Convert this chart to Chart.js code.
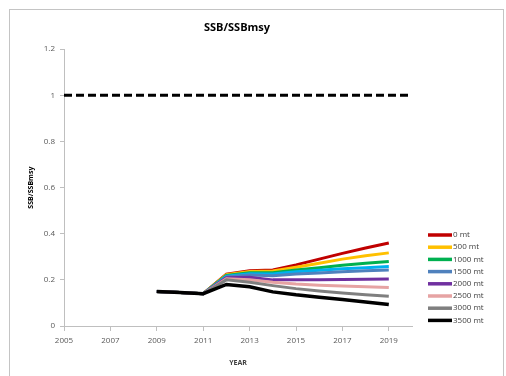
<!DOCTYPE html>
<html>
<head>
<meta charset="utf-8">
<script src="https://cdn.jsdelivr.net/npm/chart.js@4.4.1/dist/chart.umd.min.js"></script>
<style>
  html, body { margin: 0; padding: 0; background: #fff; }
  #wrap { position: relative; width: 506px; height: 376px; overflow: hidden; }
  #frame { position: absolute; left: 9px; top: 9px; width: 495px; height: 400px;
           border: 1.5px solid #c4c4c4; box-sizing: border-box; }
  canvas { position: absolute; left: 0; top: 0; }
</style>
</head>
<body>
<div id="wrap">
  <div id="frame"></div>
  <canvas id="chart" width="506" height="376"></canvas>
</div>
<script>
// Projection years and the SSB/SSBmsy ratio for each catch scenario
const years = [2009, 2010, 2011, 2012, 2013, 2014, 2015, 2016, 2017, 2018, 2019];
const ref = [[2005, 1], [2020, 1]];
const xTicks = [2005, 2007, 2009, 2011, 2013, 2015, 2017, 2019];

const scenarioLabels = ['0 mt', '500 mt', '1000 mt', '', '1500 mt', '2000 mt', '2500 mt', '3000 mt', '3500 mt'];
const scenarioColors = ['#c00000', '#ffc000', '#00b050', '#00b0f0', '#4f81bd', '#7030a0', '#e6a3a3', '#7f7f7f', '#000000'];

const mt0    = [0.15, 0.145, 0.14, 0.225, 0.240, 0.243, 0.265, 0.290, 0.315, 0.338, 0.360];
const mt500  = [0.15, 0.145, 0.14, 0.222, 0.236, 0.238, 0.255, 0.272, 0.290, 0.305, 0.317];
const mt1000 = [0.15, 0.145, 0.14, 0.219, 0.231, 0.231, 0.243, 0.253, 0.263, 0.272, 0.280];
const mtMid  = [0.15, 0.145, 0.14, 0.216, 0.226, 0.225, 0.235, 0.242, 0.248, 0.253, 0.258];
const mt1500 = [0.15, 0.145, 0.14, 0.213, 0.221, 0.218, 0.225, 0.230, 0.235, 0.240, 0.243];
const mt2000 = [0.15, 0.145, 0.14, 0.209, 0.211, 0.200, 0.200, 0.200, 0.202, 0.203, 0.204];
const mt2500 = [0.15, 0.145, 0.14, 0.205, 0.201, 0.190, 0.182, 0.177, 0.173, 0.170, 0.167];
const mt3000 = [0.15, 0.145, 0.14, 0.200, 0.190, 0.175, 0.162, 0.152, 0.143, 0.136, 0.129];
const mt3500 = [0.15, 0.145, 0.14, 0.180, 0.170, 0.148, 0.135, 0.125, 0.115, 0.104, 0.093];

const scenarioValues = [mt0, mt500, mt1000, mtMid, mt1500, mt2000, mt2500, mt3000, mt3500];

const FONT = '"Open Sans", "Liberation Sans", sans-serif';

// Scenario lines in series order; the 3500 mt line ends up drawn last, on top
const datasets = scenarioValues.map((vals, i) => ({
  label: scenarioLabels[i],
  data: years.map((y, k) => ({ x: y, y: vals[k] })),
  borderColor: scenarioColors[i],
  backgroundColor: scenarioColors[i],
  borderWidth: i === scenarioValues.length - 1 ? 3.5 : 3,
  pointRadius: 0,
  tension: 0,
  order: scenarioValues.length - i
}));
datasets.push({
  label: 'SSBmsy',
  data: ref.map(p => ({ x: p[0], y: p[1] })),
  borderColor: '#000',
  borderWidth: 3,
  borderDash: [8, 4],
  pointRadius: 0,
  order: 0
});

// Legend column to the right of the plot
const sideLegend = {
  id: 'sideLegend',
  afterDraw(chart) {
    const ctx = chart.ctx;
    const area = chart.chartArea;
    const x0 = area.right + 16;
    let y = area.bottom - 91;
    ctx.save();
    ctx.font = '8px ' + FONT;
    ctx.textBaseline = 'middle';
    ctx.textAlign = 'left';
    for (let i = 0; i < scenarioLabels.length; i++) {
      if (!scenarioLabels[i]) continue;
      ctx.strokeStyle = scenarioColors[i];
      ctx.lineWidth = 3.5;
      ctx.beginPath();
      ctx.moveTo(x0, y);
      ctx.lineTo(x0 + 24, y);
      ctx.stroke();
      ctx.fillStyle = '#404040';
      ctx.fillText(scenarioLabels[i], x0 + 25, y);
      y += 12.2;
    }
    ctx.restore();
  }
};

new Chart(document.getElementById('chart'), {
  type: 'line',
  data: { datasets },
  plugins: [sideLegend],
  options: {
    responsive: false,
    animation: false,
    layout: { padding: { left: 12, right: 44, top: 12, bottom: 0 } },
    plugins: {
      legend: { display: false },
      tooltip: { enabled: false },
      title: {
        display: true,
        text: 'SSB/SSBmsy',
        color: '#000',
        font: { family: FONT, size: 11, weight: 'bold' },
        padding: { top: 9, bottom: 15 }
      }
    },
    scales: {
      x: {
        type: 'linear',
        min: 2005,
        max: 2020,
        afterFit(scale) { scale.height = 50; },
        afterBuildTicks(scale) { scale.ticks = xTicks.map(v => ({ value: v })); },
        grid: { drawOnChartArea: false, tickLength: 5, color: '#bfbfbf' },
        border: { color: '#bfbfbf' },
        ticks: {
          color: '#595959',
          padding: 5,
          maxRotation: 0,
          font: { family: FONT, size: 8 },
          callback: v => String(v)
        },
        title: {
          display: true,
          text: 'YEAR',
          color: '#404040',
          font: { family: FONT, size: 7, weight: 'bold' },
          padding: { top: 0, bottom: 9 }
        }
      },
      y: {
        min: 0,
        max: 1.2,
        afterFit(scale) { scale.width = 52; },
        grid: { drawOnChartArea: false, tickLength: 4, color: '#bfbfbf' },
        border: { color: '#bfbfbf' },
        ticks: {
          stepSize: 0.2,
          color: '#595959',
          padding: 5,
          font: { family: FONT, size: 8 },
          callback: v => String(Math.round(v * 10) / 10)
        },
        title: {
          display: true,
          text: 'SSB/SSBmsy',
          color: '#000',
          font: { family: FONT, size: 7, weight: 'bold' },
          padding: { top: 15, bottom: 0 }
        }
      },
      // empty right-hand strip that holds the legend column
      side: {
        position: 'right',
        display: true,
        min: 0,
        max: 1,
        afterFit(scale) { scale.width = 50; },
        grid: { display: false },
        border: { display: false },
        ticks: { display: false }
      }
    }
  }
});
</script>
</body>
</html>
